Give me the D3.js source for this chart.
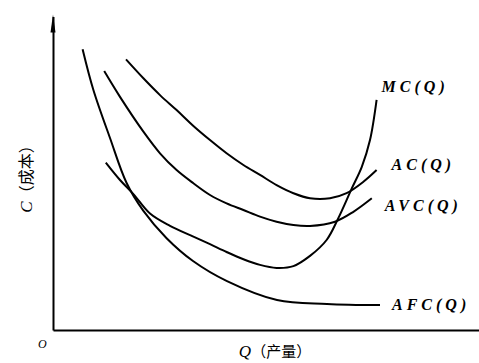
<!DOCTYPE html>
<html><head><meta charset="utf-8">
<script src="https://cdn.jsdelivr.net/npm/d3@7"></script>
<style>
html,body{margin:0;padding:0;background:#fff;}
svg{display:block;}
</style></head>
<body>
<script>
// ---- data (Q = output, C = cost) ----
const mcQ  = [1.32, 1.675, 2.01, 2.425, 2.925, 3.51, 3.925, 4.34, 4.76, 5.175, 5.59, 6.01, 6.425, 6.84, 7.13, 7.47, 7.72, 7.925, 8.09];
const mcC  = [5.58, 5.0, 4.53, 3.88, 3.47, 3.11, 2.86, 2.6, 2.36, 2.17, 2.07, 2.13, 2.47, 3.0, 3.72, 4.72, 5.44, 6.33, 7.67];
const acQ  = [1.825, 2.26, 2.675, 3.09, 3.51, 3.925, 4.34, 4.76, 5.175, 5.59, 6.01, 6.425, 6.925, 7.34, 7.76, 8.09];
const acC  = [9.02, 8.39, 7.83, 7.33, 6.8, 6.33, 5.89, 5.5, 5.17, 4.83, 4.56, 4.39, 4.39, 4.56, 4.94, 5.33];
const avcQ = [1.28, 1.675, 2.26, 2.675, 3.09, 3.51, 3.925, 4.34, 4.76, 5.175, 5.59, 6.01, 6.425, 7.05, 7.51, 7.97];
const avcC = [8.63, 7.77, 6.61, 5.89, 5.33, 4.89, 4.5, 4.22, 4.0, 3.78, 3.61, 3.5, 3.47, 3.61, 3.94, 4.39];
const afcQ = [0.74, 1.01, 1.425, 1.84, 2.26, 2.84, 3.5, 4.35, 5.6, 6.85, 8.175];
const afcC = [9.36, 8.0, 6.4, 4.9, 3.97, 3.06, 2.3, 1.63, 1.0, 0.87, 0.83];
const seriesNames = ["MC(Q)", "AC(Q)", "AVC(Q)", "AFC(Q)"];
const xTitle = ["Q", "（产量）"];
const yTitle = ["C", "（成本）"];
const originLabel = "O";

const W = 479, H = 363;
const x = d3.scaleLinear().domain([0, 10]).range([53, 453]);
const y = d3.scaleLinear().domain([0, 10]).range([330, 30]);

const svg = d3.select("body").append("svg").attr("width", W).attr("height", H);

// axes (no ticks)
const xAxisScale = d3.scaleLinear().domain([0, 10.65]).range([53, 479]);
const yAxisScale = d3.scaleLinear().domain([0, 10.45]).range([330, 16.5]);
svg.append("g").attr("transform", `translate(0,${y(0)})`)
  .call(d3.axisBottom(xAxisScale).tickValues([]).tickSizeOuter(0))
  .call(g => g.select(".domain").attr("stroke", "#000").attr("stroke-width", 2));
svg.append("g").attr("transform", `translate(${x(0)},0)`)
  .call(d3.axisLeft(yAxisScale).tickValues([]).tickSizeOuter(0))
  .call(g => g.select(".domain").attr("stroke", "#000").attr("stroke-width", 2));
// arrow head
const tipY = yAxisScale(10.45) - 2;
svg.append("path")
  .attr("d", `M${x(0)},${tipY} L${x(0) - 2.5},${tipY + 18} L${x(0) + 2.5},${tipY + 18} Z`)
  .attr("fill", "#000");

// curves
const line = d3.line().x(d => x(d[0])).y(d => y(d[1])).curve(d3.curveCatmullRom.alpha(0.5));
const series = [
  {name: seriesNames[0], pts: d3.zip(mcQ, mcC),  dx: 5,  dy: -8},
  {name: seriesNames[1], pts: d3.zip(acQ, acC),  dx: 15, dy: 0},
  {name: seriesNames[2], pts: d3.zip(avcQ, avcC), dx: 13, dy: 13},
  {name: seriesNames[3], pts: d3.zip(afcQ, afcC), dx: 12, dy: 5}
];
svg.selectAll("path.curve").data(series).enter().append("path")
  .attr("class", "curve")
  .attr("d", d => line(d.pts))
  .attr("fill", "none").attr("stroke", "#000").attr("stroke-width", 2);

svg.selectAll("text.lbl").data(series).enter().append("text")
  .attr("class", "lbl")
  .attr("x", d => x(d.pts[d.pts.length - 1][0]) + d.dx)
  .attr("y", d => y(d.pts[d.pts.length - 1][1]) + d.dy)
  .attr("font-family", "'Liberation Serif', 'DejaVu Serif', serif")
  .attr("font-style", "italic").attr("font-weight", "bold")
  .attr("font-size", 16).attr("letter-spacing", 4)
  .attr("fill", "#000")
  .text(d => d.name);

// axis titles
const xt = svg.append("text").attr("x", 275).attr("y", 357).attr("text-anchor", "middle").attr("fill", "#000");
xt.append("tspan").attr("font-family", "'Liberation Serif', serif").attr("font-style", "italic").attr("font-size", 17).text(xTitle[0]);
xt.append("tspan").attr("font-family", "'Noto Sans CJK SC', sans-serif").attr("font-size", 15).text(xTitle[1]);

const yt = svg.append("text").attr("transform", "translate(32,175) rotate(-90)").attr("text-anchor", "middle").attr("fill", "#000");
yt.append("tspan").attr("font-family", "'Liberation Serif', serif").attr("font-style", "italic").attr("font-size", 17).text(yTitle[0]);
yt.append("tspan").attr("font-family", "'Noto Sans CJK SC', sans-serif").attr("font-size", 16).text(yTitle[1]);

svg.append("text").attr("x", 38).attr("y", 348)
  .attr("font-family", "'Liberation Serif', serif").attr("font-style", "italic")
  .attr("font-size", 12).attr("fill", "#000").text(originLabel);
</script>
</body></html>
